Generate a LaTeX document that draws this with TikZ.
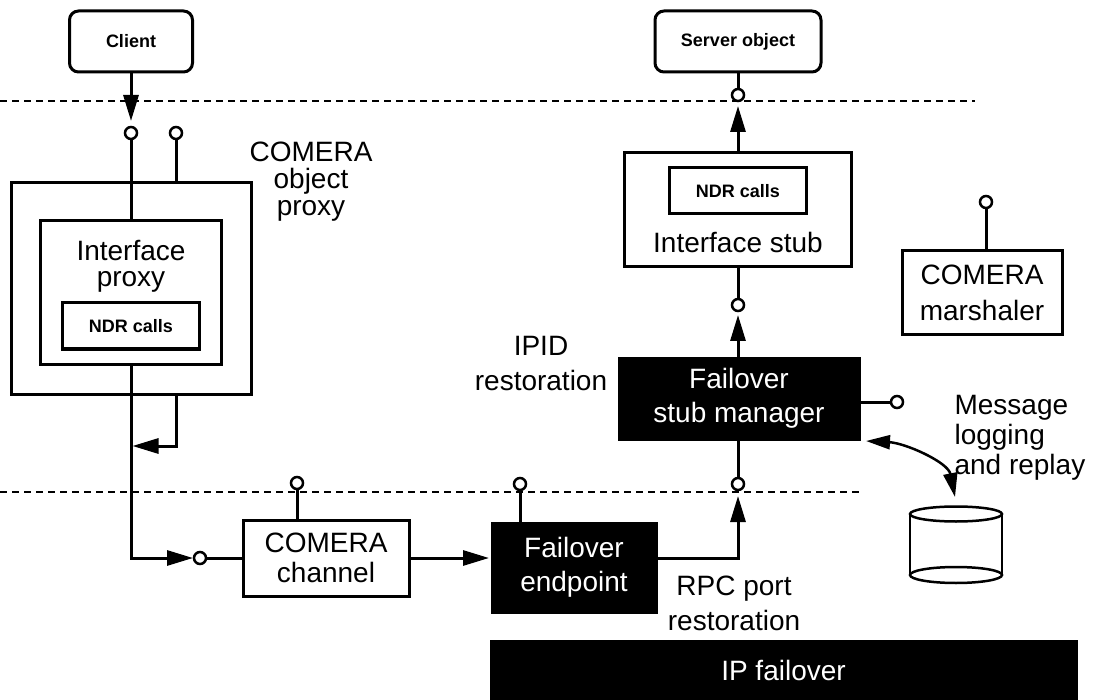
\documentclass[tikz,border=0pt]{standalone}
\usepackage{fontspec}
\setmainfont{Liberation Sans}
\usetikzlibrary{arrows.meta}
\begin{document}
\begin{tikzpicture}[x=1pt,y=-1pt,
  box/.style={draw,line width=3pt,inner sep=0pt,outer sep=0pt,fill=white,align=center},
  blackbox/.style={draw,fill=black,text=white,line width=1pt,inner sep=0pt,outer sep=0pt,align=center},
  port/.style={circle,draw,line width=2.5pt,fill=white,minimum size=12pt,inner sep=0pt,outer sep=0pt},
  wire/.style={line width=3pt},
  tip/.style={-{Triangle[length=26pt,width=15pt]}},
  arr/.style={wire,tip},
  sepline/.style={line width=1.3pt,dash pattern=on 7pt off 5pt},
  big/.style={font=\fontsize{28}{#1}\selectfont,align=center},
  big/.default=30,
  boldtext/.style={font=\fontsize{18}{20}\selectfont\bfseries}
]
\useasboundingbox (0,0) rectangle (1097,700);

% separator lines
\draw[sepline] (0,101) -- (975,101);
\draw[sepline] (0,492) -- (860,492);

% client side
\node[box,rounded corners=9pt,minimum width=123pt,minimum height=61pt,boldtext] (client) at (131,41.5) {Client};
\node[box,minimum width=240pt,minimum height=211pt] (outer) at (131,288.5) {};
\node[box,minimum width=181pt,minimum height=143pt] (inner) at (131,292.5) {};
\node[big=26] (iptext) at (131,266) {Interface\\proxy};
\node[box,minimum width=137pt,minimum height=46pt,boldtext] (ndr1) at (131,326) {NDR calls};
\node[big=27] (objproxy) at (311,182) {COMERA\\object\\proxy};

% server side
\node[box,rounded corners=9pt,minimum width=166pt,minimum height=61pt,boldtext] (server) at (738,41.5) {Server object};
\node[box,minimum width=227pt,minimum height=114pt] (stub) at (738,210) {};
\node[box,minimum width=137pt,minimum height=46pt,boldtext] (ndr2) at (738,191) {NDR calls};
\node[big] (stubtext) at (738,242) {Interface stub};
\node[box,minimum width=160pt,minimum height=84pt,big=36] (marsh) at (982,293) {COMERA\\marshaler};
\node[blackbox,minimum width=242pt,minimum height=83pt,big=34] (stubmgr) at (739,398.5) {Failover\\stub manager};
\node[big=35] (ipid) at (541,364) {IPID\\restoration};

% lower row
\node[box,minimum width=166pt,minimum height=76pt,big=30] (channel) at (326,558) {COMERA\\channel};
\node[blackbox,minimum width=166pt,minimum height=91pt,big=34] (endpoint) at (574,567.5) {Failover\\endpoint};
\node[big=35] (rpc) at (734,603.5) {RPC port\\restoration};
\node[blackbox,minimum width=587pt,minimum height=60pt,big] (ipfail) at (783.5,670) {IP failover};
\node[big=30,align=left,anchor=west] (msg) at (951,438) {Message\\logging\\and replay};

% database
\fill[white] (910,514) rectangle (1002,575);
\draw[line width=2.5pt] (910,514) -- (910,575) (1002,514) -- (1002,575);
\draw[line width=2.5pt] (956,514) ellipse[x radius=46pt,y radius=7.5pt];
\draw[line width=2.5pt] (956,575) ellipse[x radius=46pt,y radius=8pt];
\coordinate (db) at (955,497);
\coordinate (lg) at (866,441);

% ports
\node[port] (c1) at (131,133) {};
\node[port] (c2) at (176,133) {};
\node[port] (cs) at (738,95) {};
\node[port] (cst) at (738,305) {};
\node[port] (cmar) at (986,202) {};
\node[port] (csm) at (897,402) {};
\node[port] (cch) at (297,483) {};
\node[port] (cep) at (520,484) {};
\node[port] (csm2) at (738,484) {};
\node[port] (cin) at (200,558) {};
\coordinate (j1) at (131,446);
\coordinate (j2) at (738,558);

% connectors
\draw[arr,shorten >=6pt] (client.south) -- (c1.north);
\draw[wire] (c1.south) -- (inner.north);
\draw[wire] (c2.south) -- (c2 |- outer.north);
\draw[arr,shorten >=1pt] (inner.south) -- (c1 |- cin) -- (cin.west);
\draw[arr,shorten >=1.5pt] (c2 |- outer.south) -- (c2 |- j1) -- (j1);
\draw[wire] (cin.east) -- (channel.west);
\draw[arr,shorten >=2pt] (channel.east) -- (channel.east -| endpoint.west);
\draw[wire] (cch.south) -- (cch |- channel.north);
\draw[wire] (cep.south) -- (cep |- endpoint.north);
\draw[arr,shorten >=6pt] (j2 -| endpoint.east) -- (j2) -- (csm2.south);
\draw[wire] (csm2.north) -- (csm2 |- stubmgr.south);
\draw[arr,shorten >=4pt] (cst |- stubmgr.north) -- (cst.south);
\draw[wire] (cst.north) -- (cst |- stub.south);
\draw[arr,shorten >=5pt] (stub.north) -- (cs.south);
\draw[wire] (cs.north) -- (server.south);
\draw[wire] (cmar.south) -- (cmar |- marsh.north);
\draw[wire] (csm -| stubmgr.east) -- (csm.west);
\draw[line width=2.5pt,{Triangle[length=24pt,width=14pt]}-{Triangle[length=24pt,width=14pt]}] (lg) .. controls (905,443) and (948,462) .. (db);
\end{tikzpicture}
\end{document}
